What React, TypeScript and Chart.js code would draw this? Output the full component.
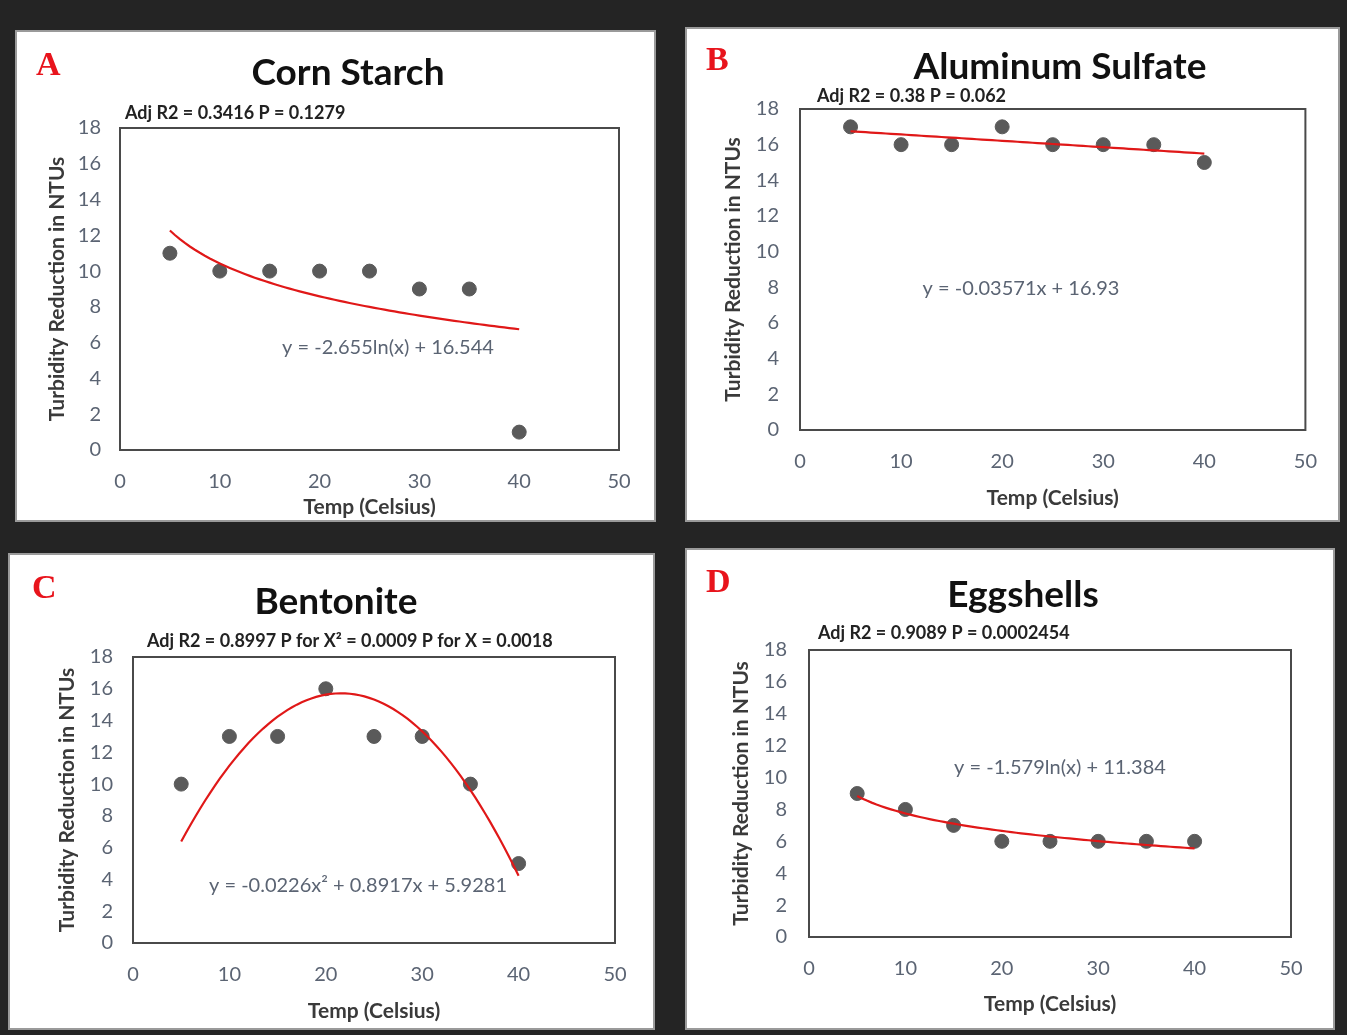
import React, { useEffect, useRef } from "react";
import { Chart, registerables } from "chart.js";
Chart.register(...registerables);

// ---- data ----
const temps = [5, 10, 15, 20, 25, 30, 35, 40];
const cornStarch = [11, 10, 10, 10, 10, 9, 9, 1];
const aluminumSulfate = [17, 16, 16, 17, 16, 16, 16, 15];
const bentonite = [10, 13, 13, 16, 13, 13, 10, 5];
const eggshells = [9, 8, 7, 6, 6, 6, 6, 6];

const xTickValues = [0, 10, 20, 30, 40, 50];
const yTickValues = [0, 2, 4, 6, 8, 10, 12, 14, 16, 18];

// trendline coefficients (curves as drawn in the picture)
const cornStarchFit = [-2.655, 16.544]; // a*ln(x)+b
const aluminumFit = [-0.03571, 16.93]; // a*x+b
const bentoniteCurve = [-0.0339, 1.464, -0.09]; // a*x^2+b*x+c
const eggshellFit = [-1.579, 11.384]; // a*ln(x)+b

const titles = ["Corn Starch", "Aluminum Sulfate", "Bentonite", "Eggshells"];
const letters = ["A", "B", "C", "D"];
const stats = [
  "Adj R2 = 0.3416 P = 0.1279",
  "Adj R2 = 0.38 P = 0.062",
  "Adj R2 = 0.8997 P for X\u00B2 = 0.0009 P for X = 0.0018",
  "Adj R2 = 0.9089 P = 0.0002454",
];
const equations = [
  "y = -2.655ln(x) + 16.544",
  "y = -0.03571x + 16.93",
  "y = -0.0226x\u00B2 + 0.8917x + 5.9281",
  "y = -1.579ln(x) + 11.384",
];
const seriesList = [cornStarch, aluminumSulfate, bentonite, eggshells];
const fitKinds = ["log", "lin", "quad", "log"];
const fitCoefs = [cornStarchFit, aluminumFit, bentoniteCurve, eggshellFit];

function fitValue(kind: string, c: number[], x: number) {
  if (kind === "log") return c[0] * Math.log(x) + c[1];
  if (kind === "lin") return c[0] * x + c[1];
  return c[0] * x * x + c[1] * x + c[2];
}

// ---- layout (page coordinates) ----
const layouts = [
  {
    panel: { x: 15, y: 30, w: 641, h: 492 },
    area: { l: 120, t: 128, r: 619, b: 450 },
    yTitleX: 57, xTitleY: 507, yTickPad: 19, xTickPad: 20,
    letter: { x: 36, y: 66 },
    title: { x: 348, y: 73 },
    stats: { x: 125, y: 113 },
    eq: { x: 388, y: 348 },
  },
  {
    panel: { x: 685, y: 27, w: 655, h: 495 },
    area: { l: 800, t: 109, r: 1308, b: 430 },
    yTitleX: 733, xTitleY: 498, yTickPad: 21, xTickPad: 20,
    letter: { x: 706, y: 61 },
    title: { x: 1060, y: 67 },
    stats: { x: 817, y: 96 },
    eq: { x: 1021, y: 289 },
  },
  {
    panel: { x: 8, y: 553, w: 647, h: 477 },
    area: { l: 133, t: 657, r: 615, b: 943 },
    yTitleX: 67, xTitleY: 1011, yTickPad: 20, xTickPad: 20,
    letter: { x: 32, y: 589 },
    title: { x: 336, y: 602 },
    stats: { x: 147, y: 641 },
    eq: { x: 358, y: 886 },
  },
  {
    panel: { x: 685, y: 548, w: 650, h: 482 },
    area: { l: 809, t: 650, r: 1291, b: 937 },
    yTitleX: 741, xTitleY: 1004, yTickPad: 22, xTickPad: 20,
    letter: { x: 706, y: 583 },
    title: { x: 1023, y: 595 },
    stats: { x: 818, y: 633 },
    eq: { x: 1060, y: 768 },
  },
];

const FONT = "Lato, 'Open Sans', sans-serif";
const TICK_COLOR = "#5b6473";
const AXIS_TITLE_COLOR = "#3a3a3a";
const POINT_COLOR = "#5a5a5a";
const LINE_COLOR = "#e01818";
const INSET = 3;

function Panel({ idx }: { idx: number }) {
  const ref = useRef<HTMLCanvasElement | null>(null);
  const L = layouts[idx];
  const cw = L.panel.w - 2 * INSET;
  const ch = L.panel.h - 2 * INSET;
  useEffect(() => {
    if (!ref.current) return;
    const px = L.panel.x + INSET, py = L.panel.y + INSET;
    const yTitleFont = 21;
    const xTitleFont = 21;
    const yLH = yTitleFont * 1.2;
    const xLH = xTitleFont * 1.2;
    const scaleLeft = L.yTitleX - px - yLH / 2;
    const yW = L.area.l - px - scaleLeft;
    const scaleBottom = L.xTitleY - py + xLH / 2;
    const xH = scaleBottom - (L.area.b - py);
    const padding = {
      left: scaleLeft,
      top: L.area.t - py,
      right: px + cw - L.area.r,
      bottom: ch - scaleBottom,
    };
    const series = seriesList[idx];
    const pts = temps.map((t, i) => ({ x: t, y: series[i] }));
    const trend: { x: number; y: number }[] = [];
    for (let x = temps[0]; x <= temps[temps.length - 1] + 1e-9; x += 0.5) {
      trend.push({ x, y: fitValue(fitKinds[idx], fitCoefs[idx], x) });
    }
    const textPlugin = {
      id: "annot" + idx,
      afterDraw(chart: any) {
        const ctx = chart.ctx;
        const ca = chart.chartArea;
        ctx.save();
        ctx.strokeStyle = "#4a4a4a";
        ctx.lineWidth = 2;
        ctx.strokeRect(ca.left, ca.top, ca.right - ca.left, ca.bottom - ca.top);
        ctx.textBaseline = "middle";
        // letter
        ctx.fillStyle = "#e8141c";
        ctx.font = "bold 34px 'Liberation Serif', serif";
        ctx.textAlign = "left";
        ctx.fillText(letters[idx], L.letter.x - px, L.letter.y - py);
        // title
        ctx.fillStyle = "#111";
        ctx.font = "bold 37px " + FONT;
        ctx.textAlign = "center";
        ctx.fillText(titles[idx], L.title.x - px, L.title.y - py);
        // stats
        ctx.font = "bold 18px " + FONT;
        ctx.fillStyle = "#222";
        ctx.textAlign = "left";
        ctx.fillText(stats[idx], L.stats.x - px, L.stats.y - py);
        // equation
        ctx.font = "20px " + FONT;
        ctx.fillStyle = "#5b6473";
        ctx.textAlign = "center";
        ctx.fillText(equations[idx], L.eq.x - px, L.eq.y - py);
        ctx.restore();
      },
    };
    const chart = new Chart(ref.current, {
      type: "scatter",
      data: {
        datasets: [
          {
            type: "line",
            label: "trend",
            data: trend,
            borderColor: LINE_COLOR,
            borderWidth: 2.2,
            pointRadius: 0,
            tension: 0,
            fill: false,
            order: 0,
          } as any,
          {
            label: titles[idx],
            data: pts,
            backgroundColor: POINT_COLOR,
            borderColor: POINT_COLOR,
            pointRadius: 7,
            order: 1,
          },
        ],
      },
      options: {
        animation: false,
        responsive: false,
        maintainAspectRatio: false,
        layout: { padding },
        plugins: {
          legend: { display: false },
          tooltip: { enabled: false },
          title: { display: false },
        },
        scales: {
          x: {
            type: "linear",
            min: 0,
            max: 50,
            afterBuildTicks: (s: any) => {
              s.ticks = xTickValues.map((v) => ({ value: v }));
            },
            afterFit: (s: any) => {
              s.height = xH;
            },
            grid: { display: false, drawTicks: false },
            border: { display: false },
            ticks: {
              padding: L.xTickPad,
              color: TICK_COLOR,
              font: { family: FONT, size: 20 },
            },
            title: {
              display: true,
              text: "Temp (Celsius)",
              color: AXIS_TITLE_COLOR,
              font: { family: FONT, size: xTitleFont, weight: "bold" },
              padding: 0,
            },
          },
          y: {
            type: "linear",
            min: 0,
            max: 18,
            afterBuildTicks: (s: any) => {
              s.ticks = yTickValues.map((v) => ({ value: v }));
            },
            afterFit: (s: any) => {
              s.width = yW;
            },
            grid: { display: false, drawTicks: false },
            border: { display: false },
            ticks: {
              padding: L.yTickPad,
              color: TICK_COLOR,
              font: { family: FONT, size: 20 },
            },
            title: {
              display: true,
              text: "Turbidity Reduction in NTUs",
              color: AXIS_TITLE_COLOR,
              font: { family: FONT, size: yTitleFont, weight: "bold" },
              padding: 0,
            },
          },
        },
      } as any,
      plugins: [textPlugin],
    });
    return () => chart.destroy();
  }, [idx]);
  return (
    <div
      style={{
        position: "absolute",
        left: L.panel.x,
        top: L.panel.y,
        width: L.panel.w,
        height: L.panel.h,
        background: "#fff",
        boxShadow: "inset 0 0 0 2px #9a9a9a",
      }}
    >
      <canvas
        ref={ref}
        width={cw}
        height={ch}
        style={{ display: "block", position: "absolute", left: INSET, top: INSET }}
      />
    </div>
  );
}

export default function App() {
  return (
    <div
      style={{
        position: "absolute",
        left: 0,
        top: 0,
        width: 1347,
        height: 1035,
        background: "#242424",
        overflow: "hidden",
      }}
    >
      {[0, 1, 2, 3].map((i) => (
        <Panel key={i} idx={i} />
      ))}
    </div>
  );
}
